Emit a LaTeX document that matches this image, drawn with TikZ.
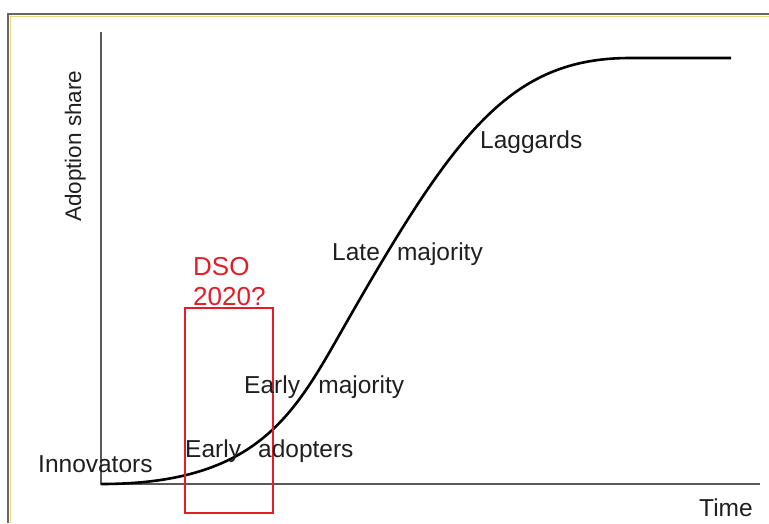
\documentclass[tikz,border=0pt]{standalone}
\usepackage{fontspec}
\setmainfont{Liberation Sans}
\definecolor{dsored}{RGB}{228,28,40}
\begin{document}
\begin{tikzpicture}[x=1pt,y=-1pt,
  lbl/.style={anchor=base west,inner sep=0pt,text=black!88,font=\fontsize{24.5}{29}\selectfont},
  redlbl/.style={anchor=base west,inner sep=0pt,text=dsored,font=\fontsize{26}{33}\selectfont},
  axis/.style={draw=black!65,line width=2.2pt},
]
\useasboundingbox (0,0) rectangle (769,523);
% frame
\draw[line width=2.5pt,draw=black!60] (8,523) -- (8,14) -- (769,14);
\draw[line width=1pt,draw=yellow!50!brown!60] (10,523) -- (10,16) -- (769,16);
% axes
\coordinate (o) at (101,484);
\coordinate (ytop) at (101,32);
\coordinate (xend) at (760,484);
\draw[axis] (ytop) -- (o) -- (xend);
% curve
\coordinate (infl) at (345,325);
\coordinate (sat) at (630,58);
\coordinate (cend) at (731,58);
\draw[line width=2.6pt,line join=round] (o) .. controls (260,484) and (295,412.5) .. (infl)
  .. controls (455,132.5) and (510,58) .. (sat) -- (cend);
% red box
\node[draw=dsored,line width=2pt,minimum width=88pt,minimum height=205pt,inner sep=0pt] (box) at (228.5,410.5) {};
\node[redlbl] (dso) at (193,275) {DSO};
\node[redlbl] (yr) at (193,305) {2020?};
% labels
\node[lbl] (inn) at (38,472) {Innovators};
\node[lbl] (ea) at (185,457) {Early\hspace{0.7em}adopters};
\node[lbl] (em) at (244,393) {Early\hspace{0.75em}majority};
\node[lbl] (lm) at (332,260) {Late\hspace{0.7em}majority};
\node[lbl] (lag) at (480,148) {Laggards};
\node[lbl] (time) at (699,516) {Time};
\node[lbl,rotate=90,font=\fontsize{22.5}{27}\selectfont] (ys) at (81,222) {Adoption share};
\end{tikzpicture}
\end{document}
